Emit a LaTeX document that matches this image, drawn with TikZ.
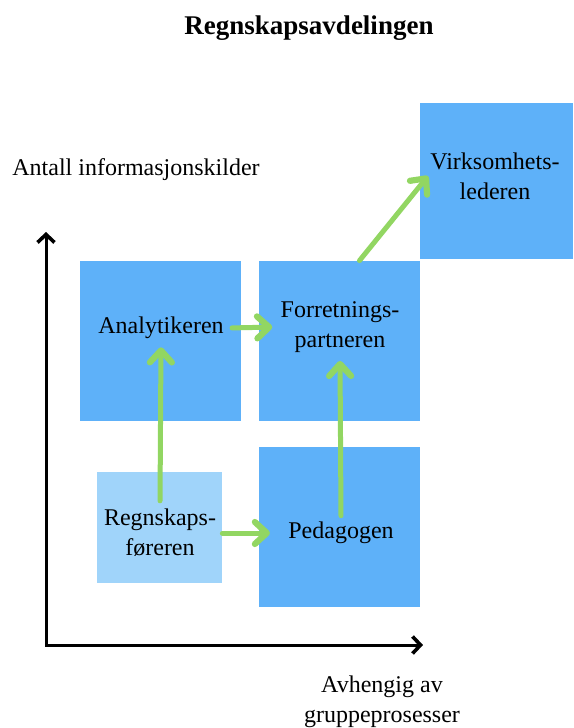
\documentclass[tikz,border=0pt]{standalone}
\usepackage{fontspec}
\setmainfont{Liberation Serif}
\usetikzlibrary{arrows.meta, positioning, calc}
\definecolor{colDark} {RGB}{94,177,249}
\definecolor{colLight}{RGB}{160,212,250}
\definecolor{colGreen}{RGB}{146,214,98}
\tikzset{
  box/.style    = {draw=none, inner sep=0pt, fill=colDark},
  boxlight/.style={box, fill=colLight},
  lbl/.style    = {font=\fontsize{12}{15}\selectfont, align=center, inner sep=2pt},
  garr/.style   = {-{Straight Barb[length=6pt, width=11pt, round, line width=0.6pt 1]},
                   line width=2.5pt, draw=colGreen, line cap=round},
  axis/.style   = {{Straight Barb[length=4pt, width=8.5pt, line width=0.3pt 1]}-{Straight Barb[length=4pt, width=8.5pt, line width=0.3pt 1]},
                   line width=1.5pt, line join=miter},
}
\begin{document}
\begin{tikzpicture}[x=0.5pt, y=-0.5pt]
\useasboundingbox (0,0) rectangle (573,728);

%% ── title ───────────────────────────────────────────────────────────────────
\node[font=\fontsize{13.5}{16}\selectfont\bfseries] (title) at (309,28) {Regnskapsavdelingen};

%% ── boxes ───────────────────────────────────────────────────────────────────
\node[box,      minimum width=80.5pt, minimum height=80pt] (analytBox) at (160.5,341) {};
\node[box,      minimum width=80.5pt, minimum height=80pt] (forretBox) at (339.5,341) {};
\node[box,      minimum width=76.5pt, minimum height=78pt] (virkBox)   at (496.5,181) {};
\node[boxlight, minimum width=62.5pt, minimum height=55.5pt] (regnBox) at (159.5,527.5) {};
\node[box,      minimum width=80.5pt, minimum height=80pt] (pedBox)    at (339.5,527) {};

%% ── labels ──────────────────────────────────────────────────────────────────
\node[lbl] (analyt) at (161,328) {Analytikeren};
\node[lbl] (forret) at (340,327) {Forretnings-\\partneren};
\node[lbl] (virk)   at (495,176) {Virksomhets-\\lederen};
\node[lbl] (regn)   at (160,533) {Regnskaps-\\føreren};
\node[lbl] (ped)    at (341,533) {Pedagogen};

%% ── axes ────────────────────────────────────────────────────────────────────
\coordinate (origin) at (46,645);
\coordinate (ytop)   at (46,232);
\coordinate (xend)   at (423,645);
\draw[axis] (ytop) -- (origin) -- (xend);
\node[lbl, anchor=west] (ylab) at (8,170) {Antall informasjonskilder};
\node[lbl] (xlab) at (382,702) {Avhengig av\\gruppeprosesser};

%% ── green arrows ────────────────────────────────────────────────────────────
\draw[garr, shorten <=2pt, shorten >=2pt] (regn.north) -- (analyt.south);
\draw[garr, shorten <=2pt, shorten >=2pt] (analyt.east) -- (forret.west);
\draw[garr, shorten <=1pt, shorten >=7pt] (regn.east) -- (ped.west);
\draw[garr, shorten <=1pt, shorten >=2pt] (ped.north) -- (forret.south);
\draw[garr] ([xshift=10pt]forretBox.north) -- ([xshift=1pt]virk.west);

\end{tikzpicture}
\end{document}
